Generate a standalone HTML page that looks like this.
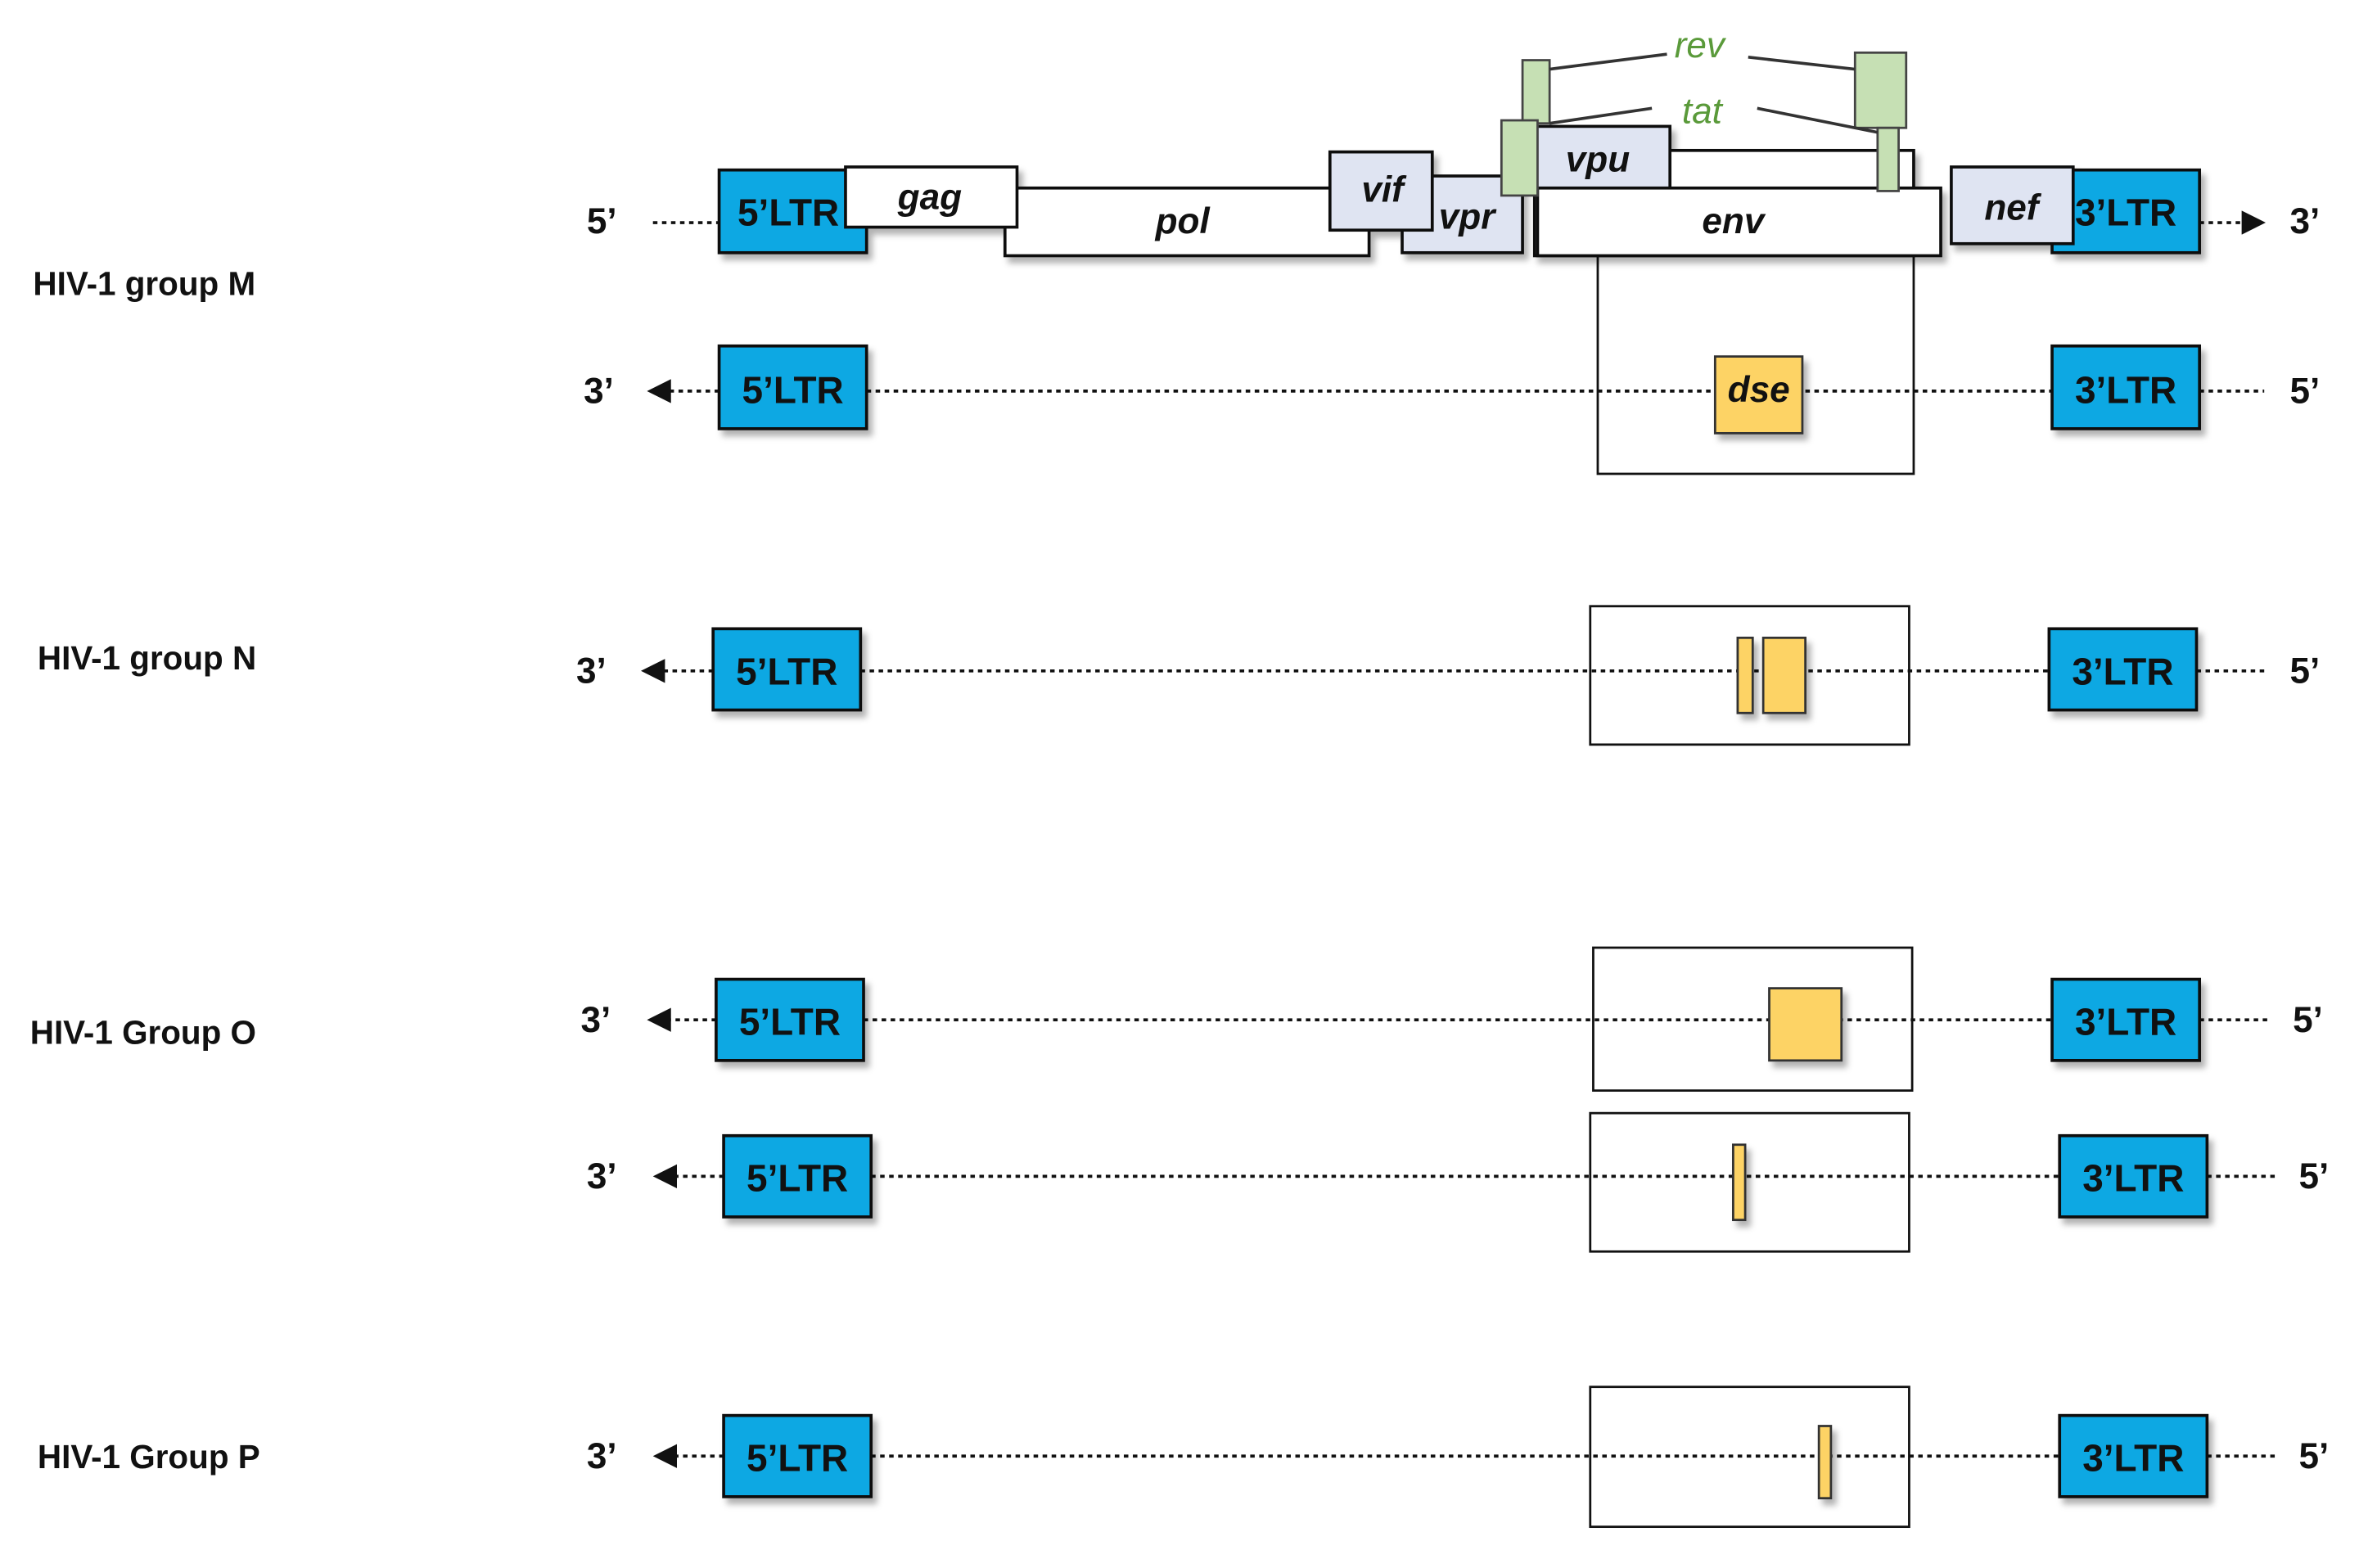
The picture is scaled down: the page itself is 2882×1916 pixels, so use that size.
<!DOCTYPE html>
<html><head><meta charset="utf-8"><style>
html,body{margin:0;padding:0;background:#fff;}
svg{display:block;}
text{font-family:"Liberation Sans",Arial,sans-serif;font-weight:bold;}
</style></head><body>
<svg width="2882" height="1916" viewBox="0 0 1568 1042.4" preserveAspectRatio="none" xmlns="http://www.w3.org/2000/svg">
<defs>
<filter id="sh" x="-20%" y="-20%" width="150%" height="160%"><feDropShadow dx="3" dy="4" stdDeviation="2" flood-color="#000" flood-opacity="0.3"/></filter>
<marker id="ar" markerWidth="8" markerHeight="8" refX="4" refY="4" orient="auto"><path d="M0,0 L8,4 L0,8 z" fill="#111"/></marker>
</defs>
<g font-size="22" fill="#111">
<text x="22" y="196">HIV-1 group M</text>
<text x="25" y="445">HIV-1 group N</text>
<text x="20" y="694">HIV-1 Group O</text>
<text x="25" y="976">HIV-1 Group P</text>
</g>
<g stroke="#111" stroke-width="2" stroke-dasharray="3,3" fill="none">
<line x1="434" y1="148" x2="478" y2="148"/>
<line x1="1462" y1="148" x2="1498" y2="148" marker-end="url(#ar)"/>
<line x1="478" y1="260" x2="438" y2="260" marker-end="url(#ar)"/>
<line x1="576" y1="260" x2="1364" y2="260"/>
<line x1="1462" y1="260" x2="1505" y2="260"/>
<line x1="474" y1="446" x2="434" y2="446" marker-end="url(#ar)"/>
<line x1="572" y1="446" x2="1362" y2="446"/>
<line x1="1460" y1="446" x2="1505" y2="446"/>
<line x1="476" y1="678" x2="438" y2="678" marker-end="url(#ar)"/>
<line x1="574" y1="678" x2="1364" y2="678"/>
<line x1="1462" y1="678" x2="1508" y2="678"/>
<line x1="481" y1="782" x2="442" y2="782" marker-end="url(#ar)"/>
<line x1="579" y1="782" x2="1369" y2="782"/>
<line x1="1467" y1="782" x2="1512" y2="782"/>
<line x1="481" y1="968" x2="442" y2="968" marker-end="url(#ar)"/>
<line x1="579" y1="968" x2="1369" y2="968"/>
<line x1="1467" y1="968" x2="1512" y2="968"/>
</g>
<g font-size="24" fill="#111">
<text x="390" y="155">5’</text><text x="1522" y="155">3’</text>
<text x="388" y="268">3’</text><text x="1522" y="268">5’</text>
<text x="383" y="454">3’</text><text x="1522" y="454">5’</text>
<text x="386" y="686">3’</text><text x="1524" y="686">5’</text>
<text x="390" y="790">3’</text><text x="1528" y="790">5’</text>
<text x="390" y="976">3’</text><text x="1528" y="976">5’</text>
</g>
<!-- big boxes -->
<g fill="none" stroke="#111" stroke-width="1.5">
<rect x="1062" y="170" width="210" height="145"/>
<rect x="1057" y="403" width="212" height="92"/>
<rect x="1059" y="630" width="212" height="95"/>
<rect x="1057" y="740" width="212" height="92"/>
<rect x="1057" y="922" width="212" height="93"/>
</g>
<!-- top gene map -->
<g stroke="#111" stroke-width="2" filter="url(#sh)">
<rect x="1020" y="100" width="252" height="70" fill="#fff"/>
<rect x="668" y="125" width="242" height="45" fill="#fff"/>
<rect x="932" y="117" width="80" height="51" fill="#dfe4f2"/>
<rect x="884" y="101" width="68" height="52" fill="#dfe4f2"/>
<rect x="1020" y="84" width="90" height="44" fill="#dfe4f2"/>
<rect x="1022" y="125" width="268" height="45" fill="#fff"/>
<rect x="478" y="113" width="98" height="55" fill="#0aa8e3"/>
<rect x="562" y="111" width="114" height="40" fill="#fff"/>
<rect x="1364" y="113" width="98" height="55" fill="#0aa8e3"/>
<rect x="1297" y="111" width="81" height="51" fill="#dfe4f2"/>
</g>
<g stroke="#444" stroke-width="1.5" fill="#c6e0b4">
<rect x="1012" y="40" width="18" height="42"/>
<rect x="1233" y="35" width="34" height="50"/>
<rect x="998" y="80" width="24" height="50"/>
<rect x="1248" y="85" width="14" height="42"/>
</g>
<g stroke="#333" stroke-width="2">
<line x1="1030" y1="46" x2="1108" y2="36"/>
<line x1="1162" y1="38" x2="1233" y2="46"/>
<line x1="1030" y1="82" x2="1098" y2="72"/>
<line x1="1168" y1="72" x2="1248" y2="88"/>
</g>
<g font-size="24" font-style="italic" fill="#5a9a3a" font-weight="normal">
<text x="1113" y="38" style="font-weight:normal">rev</text>
<text x="1118" y="82" style="font-weight:normal">tat</text>
</g>
<g font-size="24" font-style="italic" fill="#111" text-anchor="middle">
<text x="618" y="139">gag</text>
<text x="786" y="155">pol</text>
<text x="919" y="134">vif</text>
<text x="975" y="152">vpr</text>
<text x="1062" y="114">vpu</text>
<text x="1152" y="155">env</text>
<text x="1337" y="146">nef</text>
</g>
<!-- LTR boxes -->
<g stroke="#111" stroke-width="2" fill="#0aa8e3" filter="url(#sh)">
<rect x="478" y="230" width="98" height="55"/><rect x="1364" y="230" width="98" height="55"/>
<rect x="474" y="418" width="98" height="54"/><rect x="1362" y="418" width="98" height="54"/>
<rect x="476" y="651" width="98" height="54"/><rect x="1364" y="651" width="98" height="54"/>
<rect x="481" y="755" width="98" height="54"/><rect x="1369" y="755" width="98" height="54"/>
<rect x="481" y="941" width="98" height="54"/><rect x="1369" y="941" width="98" height="54"/>
</g>
<g stroke="#333" stroke-width="1.5" fill="#fdd365" filter="url(#sh)">
<rect x="1140" y="237" width="58" height="51"/>
<rect x="1155" y="424" width="10" height="50"/><rect x="1172" y="424" width="28" height="50"/>
<rect x="1176" y="657" width="48" height="48"/>
<rect x="1152" y="761" width="8" height="50"/>
<rect x="1209" y="948" width="8" height="48"/>
</g>
<g font-size="25" fill="#111" text-anchor="middle">
<text x="524" y="150">5’LTR</text><text x="1413" y="150">3’LTR</text>
<text x="527" y="268">5’LTR</text><text x="1413" y="268">3’LTR</text>
<text x="523" y="455">5’LTR</text><text x="1411" y="455">3’LTR</text>
<text x="525" y="688">5’LTR</text><text x="1413" y="688">3’LTR</text>
<text x="530" y="792">5’LTR</text><text x="1418" y="792">3’LTR</text>
<text x="530" y="978">5’LTR</text><text x="1418" y="978">3’LTR</text>
<text x="1169" y="267" font-style="italic" font-size="24">dse</text>
</g>
</svg>
</body></html>
